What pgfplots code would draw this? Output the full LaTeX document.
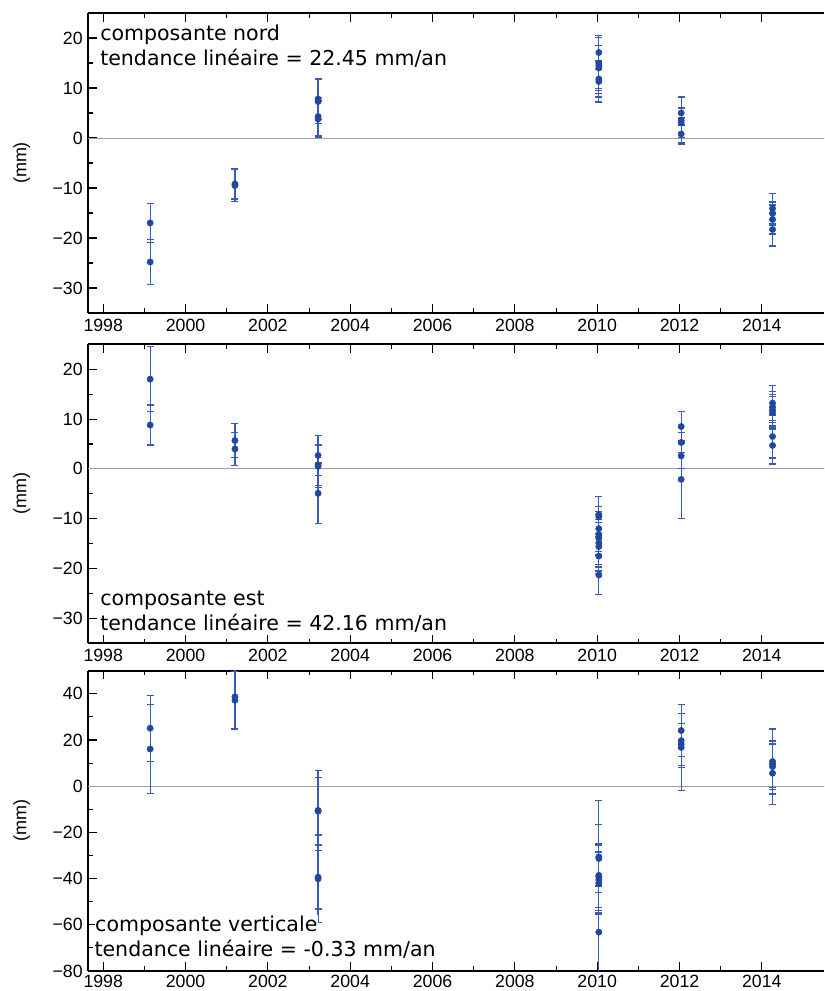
\documentclass[border=0pt]{standalone}
\usepackage{pgfplots}
\pgfplotsset{compat=1.18}
\usepackage{pgfplotstable}
\usepackage{fontspec}
\setmainfont{Liberation Sans}
\newfontfamily\annfont{DejaVu Sans}
\definecolor{ptblue}{RGB}{32,72,160}
\definecolor{ebblue}{RGB}{55,92,182}

\pgfplotstableread{
x y e
1999.14 -17.0 3.9
1999.14 -24.8 4.5
2001.20 -9.2 3.0
2001.20 -9.5 3.2
2003.22 7.8 4.1
2003.22 7.3 4.4
2003.22 4.3 3.8
2003.22 3.8 3.6
2010.04 17.1 3.4
2010.04 15.0 5.1
2010.04 14.5 5.6
2010.04 14.0 4.5
2010.04 11.8 3.6
2010.04 11.3 4.1
2012.04 3.5 4.7
2012.04 3.0 2.9
2012.04 5.0 1.0
2012.04 0.8 1.8
2014.26 -14.1 3.0
2014.26 -15.1 2.3
2014.26 -16.3 2.9
2014.26 -18.3 3.3
}\nord

\pgfplotstableread{
x y e
1999.14 18.0 6.5
1999.14 8.8 4.0
2001.20 5.7 3.4
2001.20 4.0 3.3
2003.22 2.7 4.0
2003.22 0.8 4.1
2003.22 0.5 4.3
2003.22 -4.9 6.1
2010.04 -9.2 3.7
2010.04 -9.6 4.0
2010.04 -12.0 4.5
2010.04 -13.2 4.0
2010.04 -13.9 5.3
2010.04 -14.9 4.8
2010.04 -15.6 4.9
2010.04 -17.5 3.5
2010.04 -21.3 3.9
2012.04 8.5 3.0
2012.04 5.3 2.0
2012.04 2.6 2.6
2012.04 -2.1 7.8
2014.26 13.2 3.5
2014.26 12.4 3.1
2014.26 11.8 3.1
2014.26 11.3 3.3
2014.26 6.5 4.3
2014.26 4.7 3.7
}\est

\pgfplotstableread{
x y e
1999.14 25.1 14.3
1999.14 16.1 19.3
2001.20 38.7 14.2
2001.20 37.2 12.3
2003.22 -10.5 17.4
2003.22 -10.8 14.5
2003.22 -39.4 13.8
2003.22 -40.1 19.0
2010.04 -30.6 24.3
2010.04 -31.3 14.8
2010.04 -38.6 13.8
2010.04 -39.3 14.5
2010.04 -40.5 15.0
2010.04 -42.0 13.5
2010.04 -63.2 20.0
2012.04 24.1 11.3
2012.04 19.7 11.7
2012.04 18.2 9.1
2012.04 16.8 18.5
2014.26 10.7 14.1
2014.26 9.5 10.2
2014.26 8.5 9.8
2014.26 5.6 13.6
}\vert

\pgfplotsset{
  panel/.style={
    scale only axis,
    width=552pt,
    anchor=north west,
    xmin=1997.63, xmax=2015.51,
    axis x line=box,
    axis y line=left,
    axis line style={-, line width=1.4pt, black},
    every outer y axis line/.append style={-},
    tick align=inside,
    major tick length=6.5pt,
    minor tick length=3.5pt,
    tick style={black, line width=0.8pt},
    xtick={1998,2000,2002,2004,2006,2008,2010,2012,2014},
    xticklabels={1998,2000,2002,2004,2006,2008,2010,2012,2014},
    minor x tick num=1,
    minor y tick num=1,
    tick label style={font=\fontsize{13.3}{15}\selectfont},
    xticklabel style={yshift=-1pt},
    yticklabel style={xshift=-0.5pt},
    ylabel={(mm)},
    every axis y label/.style={at={(axis description cs:-0.090,0.5)}, rotate=90, anchor=center, font=\fontsize{13.5}{15}\selectfont},
    clip=true,
  },
  pts/.style={
    only marks, mark=*, mark size=2.35pt,
    mark options={fill=ptblue, draw=ptblue},
    error bars/.cd, y dir=both, y explicit,
    error bar style={ebblue, line width=0.95pt},
    error mark options={rotate=90, ebblue, mark size=2.6pt, line width=0.9pt},
  },
}

\begin{document}
\begin{tikzpicture}
\useasboundingbox (0pt,0pt) rectangle (618pt,-743.25pt);

% Panel 1 : nord
\begin{axis}[panel, at={(66pt,-9.75pt)}, height=225pt,
  ymin=-35, ymax=25,
  ytick={-30,-20,-10,0,10,20},
  yticklabels={−30,−20,−10,0,10,20}]
\addplot[gray!75, line width=0.6pt, forget plot] coordinates {(1997,0) (2016,0)};
\addplot+[pts] table[x=x, y=y, y error=e] {\nord};
\end{axis}

% Panel 2 : est
\begin{axis}[panel, at={(66pt,-258.225pt)}, height=224.25pt,
  ymin=-35, ymax=25,
  ytick={-30,-20,-10,0,10,20},
  yticklabels={−30,−20,−10,0,10,20}]
\addplot[gray!75, line width=0.6pt, forget plot] coordinates {(1997,0) (2016,0)};
\addplot+[pts] table[x=x, y=y, y error=e] {\est};
\end{axis}

% Panel 3 : verticale
\begin{axis}[panel, at={(66pt,-503.025pt)}, height=225.2pt,
  ymin=-80, ymax=50,
  ytick={-80,-60,-40,-20,0,20,40},
  yticklabels={−80,−60,−40,−20,0,20,40},
  xticklabel style={yshift=1.2pt}]
\addplot[gray!75, line width=0.6pt, forget plot] coordinates {(1997,0) (2016,0)};
\addplot+[pts] table[x=x, y=y, y error=e] {\vert};
\end{axis}

\begin{scope}[x=0.75pt, y=-0.75pt, every node/.style={anchor=base west, inner sep=0pt, font=\annfont\fontsize{15.4}{18}\selectfont}]
\node at (100,40.7) {composante nord};
\node at (100,66) {tendance linéaire = 22.45 mm/an};
\node at (100,605) {composante est};
\node at (100,630) {tendance linéaire = 42.16 mm/an};
\node[fill=white, inner sep=0.5pt] at (94.3,931) {composante verticale};
\node at (94.3,956) {tendance linéaire = -0.33 mm/an};
\end{scope}
\end{tikzpicture}
\end{document}
